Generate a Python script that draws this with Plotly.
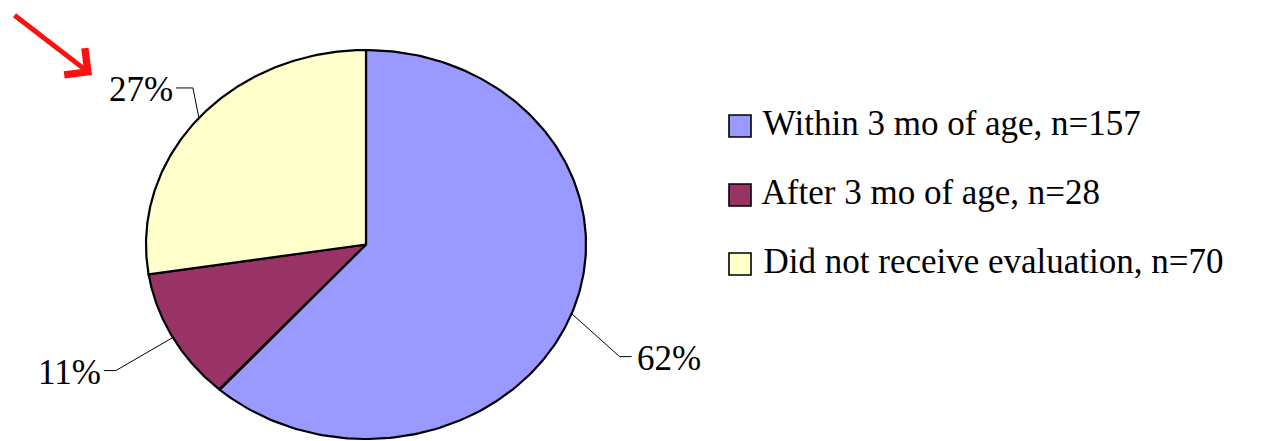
import numpy as np
import plotly.graph_objects as go

# Data
categories = ["Within 3 mo of age, n=157", "After 3 mo of age, n=28", "Did not receive evaluation, n=70"]
counts = [157, 28, 70]
pct_labels = ["62%", "11%", "27%"]
colors = ["#9999FF", "#993366", "#FFFFCC"]

W, H = 1268, 441
CX, CY = 366, 244.5     # pie centre in px
RX, RY = 220, 194.5     # ellipse radii in px
FONT = "Liberation Serif"

# Axes in pie units: unit circle drawn as an ellipse via axis scaling
x_range = [-CX / RX, (W - CX) / RX]
y_range = [-(H - CY) / RY, CY / RY]


def px_to_x(px):
    return (px - CX) / RX


def py_to_y(py):
    return (CY - py) / RY


fig = go.Figure()

total = sum(counts)
start = 0.0
mids = []
for cat, n, col in zip(categories, counts, colors):
    frac = n / total
    t = np.linspace(start, start + frac, 200) * 2 * np.pi
    xs = np.concatenate([[0], np.sin(t), [0]])
    ys = np.concatenate([[0], np.cos(t), [0]])
    fig.add_trace(go.Scatter(
        x=xs, y=ys, fill="toself", fillcolor=col, mode="lines",
        line=dict(color="black", width=2.2), showlegend=False, hoverinfo="skip",
        name=cat,
    ))
    mids.append((start + frac / 2) * 2 * np.pi)
    start += frac

# Leader lines and percentage labels
# (elbow offset in px, horizontal stub in px, text anchor side)
leaders = [
    ((48, 43), 12, "left"),
    ((-57, 33), -12, "right"),
    ((-6, -30), -17, "right"),
]
for lab, m, ((dx, dy), stub, side) in zip(pct_labels, mids, leaders):
    x0, y0 = np.sin(m), np.cos(m)
    ex = x0 + dx / RX
    ey = y0 - dy / RY
    hx = ex + stub / RX
    fig.add_trace(go.Scatter(
        x=[x0, ex, hx], y=[y0, ey, ey], mode="lines",
        line=dict(color="black", width=1), showlegend=False, hoverinfo="skip",
    ))
    fig.add_annotation(
        x=hx, y=ey, text=lab, showarrow=False,
        xanchor="left" if side == "left" else "right", yanchor="middle",
        xshift=3 if side == "left" else -1, yshift=-2,
        font=dict(family=FONT, size=35, color="black"),
    )

# Legend drawn as square markers with text
leg_x = px_to_x(740)
leg_y = [py_to_y(126), py_to_y(195), py_to_y(264)]
fig.add_trace(go.Scatter(
    x=[leg_x] * 3, y=leg_y, mode="markers+text",
    marker=dict(symbol="square", size=22, color=colors, line=dict(color="black", width=1.6)),
    text=[" " + c for c in categories], textposition="middle right",
    textfont=dict(family=FONT, size=35, color="black"),
    showlegend=False, hoverinfo="skip", cliponaxis=False,
))

# Red pointer arrow toward the 27% label
fig.add_annotation(
    x=px_to_x(92), y=py_to_y(75), ax=px_to_x(13), ay=py_to_y(14),
    xref="x", yref="y", axref="x", ayref="y",
    showarrow=True, arrowhead=4, arrowsize=1.3, arrowwidth=5, arrowcolor="#FF1010",
    text="",
)

fig.update_layout(
    width=W, height=H,
    margin=dict(l=0, r=0, t=0, b=0),
    paper_bgcolor="white", plot_bgcolor="white",
    xaxis=dict(range=x_range, visible=False, fixedrange=True),
    yaxis=dict(range=y_range, visible=False, fixedrange=True),
    showlegend=False,
)

fig.write_html("out.html")
